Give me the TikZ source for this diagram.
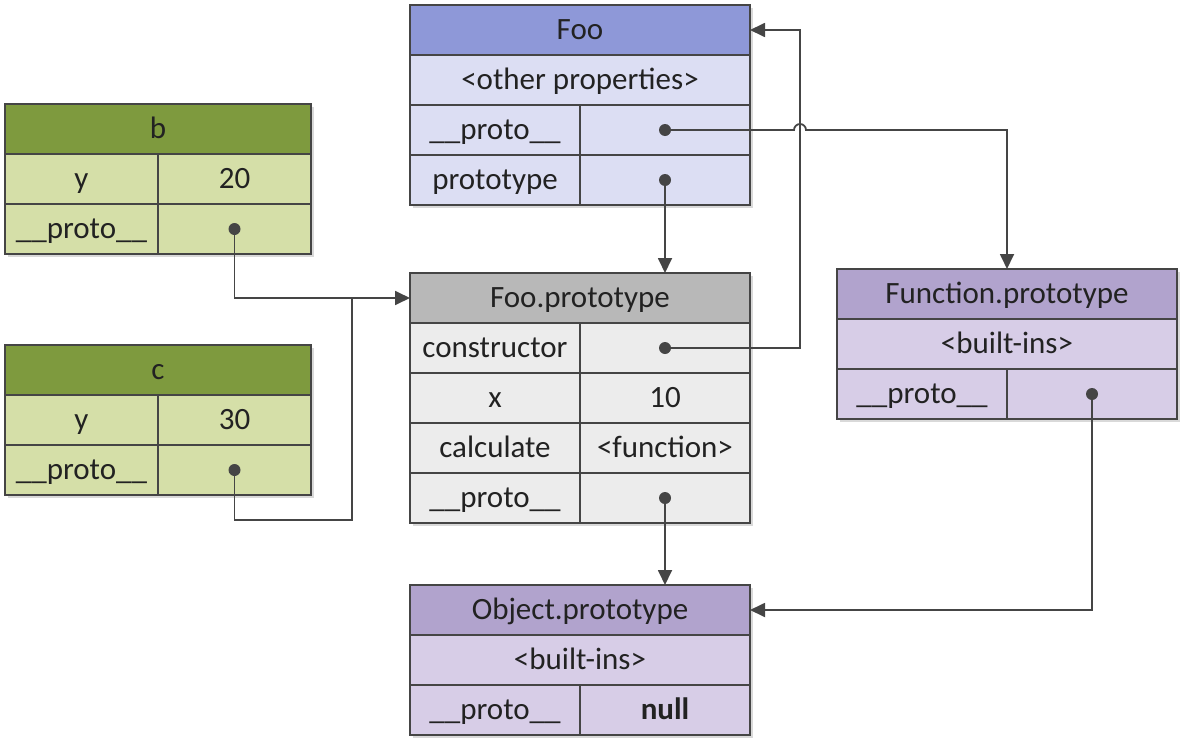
\documentclass[tikz,border=0pt]{standalone}
\usepackage{fontspec}
\setmainfont{Carlito}
\usetikzlibrary{arrows.meta,calc,shadows}

\definecolor{edge}{HTML}{454545}
\definecolor{ink}{HTML}{222222}
\definecolor{fooHead}{HTML}{8E98D8}
\definecolor{fooRow}{HTML}{DCDEF3}
\definecolor{objHead}{HTML}{7E9A3E}
\definecolor{objRow}{HTML}{D5DFA8}
\definecolor{protoHead}{HTML}{B8B8B8}
\definecolor{protoRow}{HTML}{ECECEC}
\definecolor{builtHead}{HTML}{B1A3CD}
\definecolor{builtRow}{HTML}{D7CDE7}

\tikzset{
  cell/.style={draw=edge, line width=1.4pt, inner sep=0pt, outer sep=0pt,
    minimum height=50pt, anchor=north west, text=ink,
    text height=24pt, text depth=5pt,
    font=\fontsize{31}{36}\selectfont,
    drop shadow={shadow xshift=3pt, shadow yshift=-3pt, opacity=0.3}},
  wide/.style={cell, minimum width=340pt},
  half/.style={cell, minimum width=170pt},
  swide/.style={cell, minimum width=306pt},
  shalf/.style={cell, minimum width=153pt},
  conn/.style={draw=edge, line width=1.8pt, -{Triangle[length=15pt,width=14pt]}},
  link/.style={draw=edge, line width=1.8pt},
  dot/.style={fill=edge}
}

\begin{document}
\begin{tikzpicture}[x=1pt,y=1pt]
\useasboundingbox (0,0) rectangle (1194,-747);

% Foo
\node[wide, fill=fooHead] (foo-h) at (410,-5) {Foo};
\node[wide, fill=fooRow] (foo-o) at (foo-h.south west) {<other properties>};
\node[half, fill=fooRow] (foo-pk) at (foo-o.south west) {\_\_proto\_\_};
\node[half, fill=fooRow] (foo-pv) at (foo-pk.north east) {};
\node[half, fill=fooRow] (foo-tk) at (foo-pk.south west) {prototype};
\node[half, fill=fooRow] (foo-tv) at (foo-tk.north east) {};

% b
\node[swide, fill=objHead] (b-h) at (5,-104) {b};
\node[shalf, fill=objRow] (b-yk) at (b-h.south west) {y};
\node[shalf, fill=objRow] (b-yv) at (b-yk.north east) {20};
\node[shalf, fill=objRow] (b-pk) at (b-yk.south west) {\_\_proto\_\_};
\node[shalf, fill=objRow] (b-pv) at (b-pk.north east) {};

% c
\node[swide, fill=objHead] (c-h) at (5,-345) {c};
\node[shalf, fill=objRow] (c-yk) at (c-h.south west) {y};
\node[shalf, fill=objRow] (c-yv) at (c-yk.north east) {30};
\node[shalf, fill=objRow] (c-pk) at (c-yk.south west) {\_\_proto\_\_};
\node[shalf, fill=objRow] (c-pv) at (c-pk.north east) {};

% Foo.prototype
\node[wide, fill=protoHead] (fp-h) at (410,-273) {Foo.prototype};
\node[half, fill=protoRow] (ctor-k) at (fp-h.south west) {constructor};
\node[half, fill=protoRow] (ctor-v) at (ctor-k.north east) {};
\node[half, fill=protoRow] (x-k) at (ctor-k.south west) {x};
\node[half, fill=protoRow] (x-v) at (x-k.north east) {10};
\node[half, fill=protoRow] (calc-k) at (x-k.south west) {calculate};
\node[half, fill=protoRow] (calc-v) at (calc-k.north east) {<function>};
\node[half, fill=protoRow] (fp-pk) at (calc-k.south west) {\_\_proto\_\_};
\node[half, fill=protoRow] (fp-pv) at (fp-pk.north east) {};

% Function.prototype
\node[wide, fill=builtHead] (fn-h) at (837,-269) {Function.prototype};
\node[wide, fill=builtRow] (fn-b) at (fn-h.south west) {<built-ins>};
\node[half, fill=builtRow] (fn-pk) at (fn-b.south west) {\_\_proto\_\_};
\node[half, fill=builtRow] (fn-pv) at (fn-pk.north east) {};

% Object.prototype
\node[wide, fill=builtHead] (ob-h) at (410,-585) {Object.prototype};
\node[wide, fill=builtRow] (ob-b) at (ob-h.south west) {<built-ins>};
\node[half, fill=builtRow] (ob-pk) at (ob-b.south west) {\_\_proto\_\_};
\node[half, fill=builtRow] (ob-pv) at (ob-pk.north east) {\textbf{null}};

% Links
\path (foo-h.east) ++(50,0) coordinate (back);
\path (fp-h.west) ++(-58,0) coordinate (join);
\draw[conn] (b-pv.center) |- (fp-h.west);
\draw[link] (c-pv.center) -- ++(0,-50) -| (join);
\draw[conn] (foo-tv.center) -- (foo-tv.center |- fp-h.north);
\draw[conn] (ctor-v.center) -| (back) -- (foo-h.east);
\draw[conn] (foo-pv.center) -- ($(foo-pv.center -| back)+(-6,0)$)
    arc[start angle=180, end angle=0, radius=6pt] -| (fn-h.north);
\draw[conn] (fp-pv.center) -- (fp-pv.center |- ob-h.north);
\draw[conn] (fn-pv.center) |- (ob-h.east);
\foreach \d in {foo-pv, foo-tv, b-pv, c-pv, ctor-v, fp-pv, fn-pv}
  \fill[dot] (\d.center) circle (6pt);
\end{tikzpicture}
\end{document}
